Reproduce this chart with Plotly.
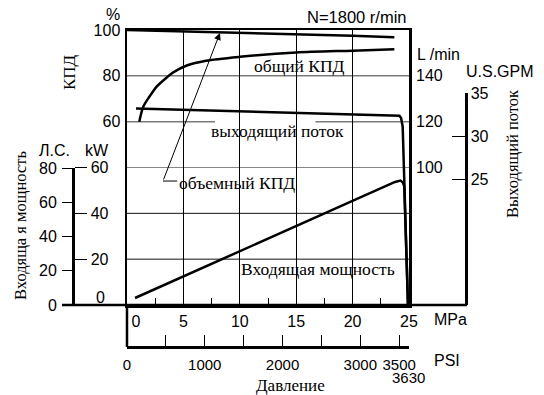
import plotly.graph_objects as go

W, H = 544, 395
def px(x):
    return x / W
def py(y):
    return 1 - y / H

SANS = "Liberation Sans"
SERIF = "Liberation Serif"

# ---------------- data ----------------
vol_eff_mpa = [0, 5, 10, 15, 20, 23.7]
vol_eff_pct = [100, 99.4, 98.8, 98.2, 97.5, 96.8]

tot_eff_mpa = [1.09, 1.44, 2.0, 2.63, 3.5, 4.1, 5.3, 7, 10, 15, 20, 23.7]
tot_eff_pct = [60, 66.5, 71, 75.3, 79.2, 81.5, 84.5, 86.6, 88.3, 90.2, 91, 91.6]

flow_mpa = [0.8, 23.6, 24.15, 24.3, 24.44, 24.91]
flow_lpm = [125.8, 122.9, 122.6, 121.6, 117.8, 40]

power_mpa = [0.71, 23.76, 24.25, 24.45, 24.58, 24.91]
power_kw = [3.05, 53.7, 54.3, 53.5, 51.8, 0]

mpa_ticks = [0, 5, 10, 15, 20, 25]
mpa_minor = [2.5, 7.5, 12.5, 17.5, 22.5]
pct_ticks = [60, 80, 100]
lpm_ticks = [100, 120, 140]
kw_ticks = [20, 40, 60]
hp_ticks = [0, 20, 40, 60, 80]
gpm_ticks = [25, 30, 35]
psi_ticks = [0, 500, 1000, 1500, 2000, 2500, 3000, 3500, 3626]
psi_text = ["0", "", "1000", "", "2000", "", "3000", "3500", ""]

# ---------------- geometry ----------------
X0, X1 = 127, 409          # plot frame (px)
Y0, Y1 = 30, 305
dom_x = [px(X0), px(X1)]
dom_y = [py(Y1), py(Y0)]
dom_kw = [py(Y1), py(167.5)]
dom_gpm = [py(Y1), py(93.05)]

FS = 16
tickfont = dict(family=SANS, size=FS, color="black")
LW = 2.5

fig = go.Figure()

fig.add_trace(go.Scatter(x=vol_eff_mpa, y=vol_eff_pct, mode="lines",
                         line=dict(color="black", width=LW), xaxis="x", yaxis="y",
                         hoverinfo="skip", cliponaxis=False))
fig.add_trace(go.Scatter(x=tot_eff_mpa, y=tot_eff_pct, mode="lines",
                         line=dict(color="black", width=LW, shape="spline", smoothing=0.8),
                         xaxis="x", yaxis="y", hoverinfo="skip"))
fig.add_trace(go.Scatter(x=flow_mpa, y=flow_lpm, mode="lines",
                         line=dict(color="black", width=LW), xaxis="x", yaxis="y2",
                         hoverinfo="skip"))
fig.add_trace(go.Scatter(x=power_mpa, y=power_kw, mode="lines",
                         line=dict(color="black", width=LW), xaxis="x", yaxis="y4",
                         hoverinfo="skip"))
# dummy traces so the auxiliary scales get drawn
fig.add_trace(go.Scatter(x=[0], y=[0], mode="lines", xaxis="x", yaxis="y5",
                         hoverinfo="skip", line=dict(width=0)))
fig.add_trace(go.Scatter(x=[0], y=[20], mode="lines", xaxis="x", yaxis="y6",
                         hoverinfo="skip", line=dict(width=0)))
fig.add_trace(go.Scatter(x=[0], y=[50], mode="lines", xaxis="x2", yaxis="y",
                         hoverinfo="skip", line=dict(width=0)))

fig.update_layout(
    template="none",
    width=W, height=H, margin=dict(l=0, r=0, t=0, b=0, pad=0, autoexpand=False),
    paper_bgcolor="white", plot_bgcolor="rgba(0,0,0,0)",
    showlegend=False, hovermode=False,
    xaxis=dict(domain=dom_x, range=[0, 25], anchor="y", automargin=False,
               showline=True, mirror=True, linecolor="black", linewidth=LW,
               tickvals=mpa_ticks,
               ticktext=["\u00a0\u00a0\u00a0\u00a00", "5", "10", "15", "20", "25"],
               ticks="", ticklen=0, tickfont=tickfont, ticklabelstandoff=0,
               showgrid=True, gridcolor="black", gridwidth=1,
               minor=dict(tickvals=mpa_minor, ticks="inside", ticklen=7,
                          tickcolor="black", tickwidth=1, showgrid=False),
               zeroline=False, fixedrange=True),
    xaxis2=dict(domain=dom_x, range=[0, 3626], anchor="free", position=py(347),
                overlaying="x", side="bottom", automargin=False,
                showline=True, linecolor="black", linewidth=LW,
                tickvals=psi_ticks, ticktext=psi_text,
                ticks="inside", ticklen=11, tickwidth=1.2, tickcolor="black",
                tickfont=dict(family=SANS, size=15, color="black"), ticklabelstandoff=3,
                showgrid=False, zeroline=False),
    yaxis=dict(domain=dom_y, range=[-20, 100], anchor="x", automargin=False,
               showline=True, mirror=True, linecolor="black", linewidth=LW,
               tickvals=pct_ticks, ticks="", tickfont=tickfont, ticklabelstandoff=1,
               showgrid=False, zeroline=False),
    yaxis2=dict(range=[40, 160], overlaying="y", side="right", anchor="x", automargin=False,
                tickvals=lpm_ticks, ticks="", tickfont=tickfont, ticklabelstandoff=6,
                showgrid=False, zeroline=False, showline=False),
    yaxis4=dict(domain=dom_kw, range=[0, 60], anchor="free", position=px(73),
                side="right", showline=True, linecolor="black", linewidth=LW,
                automargin=False,
                tickvals=kw_ticks, ticks="outside", ticklen=12, tickwidth=1.2,
                tickcolor="black", tickfont=tickfont, ticklabelstandoff=1,
                showgrid=False, zeroline=False),
    yaxis5=dict(domain=dom_kw, range=[0, 60 / 0.7457], anchor="free", position=px(73),
                side="left", showline=False, automargin=False,
                tickvals=hp_ticks, ticks="outside", ticklen=11, tickwidth=1.2,
                tickcolor="black", tickfont=tickfont, ticklabelstandoff=2,
                showgrid=False, zeroline=False),
    yaxis6=dict(domain=dom_gpm, range=[40 / 3.78541, 35], anchor="free", position=px(466),
                side="right", showline=True, linecolor="black", linewidth=LW,
                automargin=False,
                tickvals=gpm_ticks, ticks="inside", ticklen=13, tickwidth=1.2,
                tickcolor="black", tickfont=tickfont, ticklabelstandoff=0,
                showgrid=False, zeroline=False),
)

shapes = []
# long bottom line (power scale -> right scale)
shapes.append(dict(type="line", xref="paper", yref="paper",
                   x0=px(62), x1=px(467), y0=py(305), y1=py(305),
                   line=dict(color="black", width=LW)))
# PSI scale left vertical
shapes.append(dict(type="line", xref="paper", yref="paper",
                   x0=px(127), x1=px(127), y0=py(305), y1=py(347),
                   line=dict(color="black", width=LW)))
# grey efficiency grid lines
grey = dict(color="#7a7a7a", width=1.5)
shapes.append(dict(type="line", xref="x", yref="y", x0=0, x1=25, y0=80, y1=80,
                   line=grey, layer="below"))
shapes.append(dict(type="line", xref="x", yref="y", x0=0, x1=7.8, y0=60, y1=60,
                   line=grey, layer="below"))
shapes.append(dict(type="line", xref="x", yref="y", x0=16.7, x1=25, y0=60, y1=60,
                   line=grey, layer="below"))
# dark power grid lines
for v in kw_ticks:
    shapes.append(dict(type="line", xref="x", yref="y4", x0=0, x1=25, y0=v, y1=v,
                       line=dict(color="#111", width=1), layer="below"))
# leader for volumetric efficiency label
shapes.append(dict(type="line", xref="x", yref="y", x0=3.19, x1=4.45, y0=34.1, y1=34.1,
                   line=dict(color="black", width=1)))
fig.update_layout(shapes=shapes)

def ann(text, x, y, size=FS, family=SANS, angle=0):
    return dict(text=text, x=px(x), y=py(y), xref="paper", yref="paper",
                xanchor="center", yanchor="middle", showarrow=False,
                textangle=angle, font=dict(family=family, size=size, color="black"))

SF = 17.5
anns = [
    ann("%", 113, 15),
    ann("КПД", 70, 72, 17, SERIF, -90),
    ann("N=1800 r/min", 357, 17, 16.5),
    ann("L /min", 438, 55),
    ann("U.S.GPM", 500, 72),
    ann("Л.С.", 54, 150),
    ann("kW", 97, 150),
    ann("0", 100, 297),
    ann("Входяща я мощность", 20, 226, 16.5, SERIF, -90),
    ann("Выходящий поток", 512, 154, 16.5, SERIF, -90),
    ann("общий КПД", 299, 66, SF, SERIF),
    ann("выходящий поток", 277, 131, SF, SERIF),
    ann("объемный КПД", 237, 183, SF, SERIF),
    ann("Входящая мощность", 318, 269, SF, SERIF),
    ann("MPa", 450, 319),
    ann("PSI", 447, 360),
    ann("3630", 408, 377.5, 15),
    ann("Давление", 290, 385, 17, SERIF),
    dict(x=8.24, y=98.7, xref="x", yref="y", ax=3.19, ay=34.1, axref="x", ayref="y",
         showarrow=True, arrowhead=2, arrowsize=1.4, arrowwidth=1, arrowcolor="black",
         text="", standoff=0, startstandoff=0),
]
fig.update_layout(annotations=anns)

fig.write_html("out.html",
               config={"displayModeBar": False, "staticPlot": True},
               post_script="document.body.style.margin='0';document.body.style.overflow='hidden';")
